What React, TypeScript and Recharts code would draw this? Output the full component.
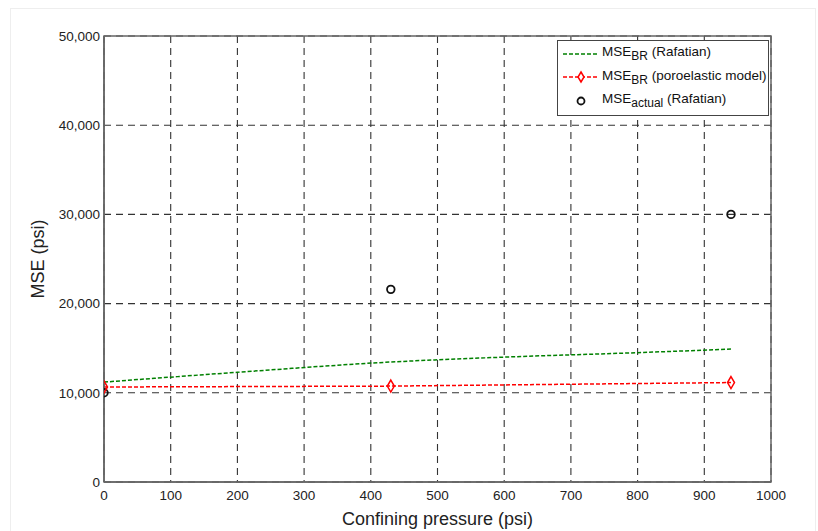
import {
  ComposedChart,
  Line,
  Scatter,
  XAxis,
  YAxis,
  CartesianGrid,
  ReferenceArea,
  Legend,
} from "recharts";

const xTicks = [0, 100, 200, 300, 400, 500, 600, 700, 800, 900, 1000];
const yTicks = [0, 10000, 20000, 30000, 40000, 50000];

// MSE_BR (Rafatian)
const rafatianX = [0, 200, 430, 600, 800, 940];
const rafatianY = [11200, 12300, 13450, 14000, 14500, 14900];

// MSE_BR (poroelastic model)
const poroX = [0, 430, 940];
const poroY = [10650, 10750, 11150];

// MSE_actual (Rafatian)
const actualX = [0, 430, 940];
const actualY = [10000, 21600, 30000];

const rafatian = rafatianX.map((x, i) => ({ x, y: rafatianY[i] }));
const poro = poroX.map((x, i) => ({ x, y: poroY[i] }));
const actual = actualX.map((x, i) => ({ x, y: actualY[i] }));

const FONT = "'Liberation Sans', Arial, sans-serif";

function Diamond(props: any) {
  const { cx, cy } = props;
  if (cx == null || cy == null) return null;
  return (
    <path
      d={`M${cx},${cy - 6} L${cx + 3.5},${cy} L${cx},${cy + 6} L${cx - 3.5},${cy} Z`}
      fill="none"
      stroke="#ff0000"
      strokeWidth={1.5}
    />
  );
}

function Ring(props: any) {
  const { cx, cy } = props;
  return <circle cx={cx} cy={cy} r={3.8} fill="none" stroke="#111" strokeWidth={1.8} />;
}

function LegendBox() {
  const row = { display: "flex", alignItems: "center", height: 23.5 } as const;
  const sub = { fontSize: 12 };
  return (
    <div
      style={{
        position: "absolute",
        left: 557,
        top: 40,
        width: 212,
        height: 76,
        border: "1px solid #444",
        background: "#fff",
        fontFamily: FONT,
        fontSize: 13.5,
        color: "#111",
        padding: "1px 0 0 5px",
        boxSizing: "border-box",
        whiteSpace: "nowrap",
      }}
    >
      <div style={row}>
        <svg width={36} height={12} style={{ marginRight: 3 }}>
          <line x1={0} y1={6} x2={36} y2={6} stroke="#008000" strokeWidth={1.5} strokeDasharray="4 2" />
        </svg>
        <span>
          MSE<sub style={sub}>BR</sub> (Rafatian)
        </span>
      </div>
      <div style={row}>
        <svg width={36} height={14} style={{ marginRight: 3 }}>
          <line x1={0} y1={7} x2={36} y2={7} stroke="#ff0000" strokeWidth={1.5} strokeDasharray="4 2" />
          <path d="M18,2 L21,7 L18,12 L15,7 Z" fill="#fff" stroke="#ff0000" strokeWidth={1.5} />
        </svg>
        <span>
          MSE<sub style={sub}>BR</sub> (poroelastic model)
        </span>
      </div>
      <div style={row}>
        <svg width={36} height={12} style={{ marginRight: 3 }}>
          <circle cx={18} cy={6} r={3.5} fill="none" stroke="#111" strokeWidth={1.8} />
        </svg>
        <span>
          MSE<sub style={sub}>actual</sub> (Rafatian)
        </span>
      </div>
    </div>
  );
}

export default function App() {
  return (
    <div
      style={{
        position: "absolute",
        left: 0,
        top: 0,
        width: 818,
        height: 531,
        background: "#fff",
        fontFamily: FONT,
      }}
    >
      <div
        style={{
          position: "absolute",
          left: 10,
          top: 8,
          width: 806,
          height: 523,
          border: "1px solid #eee",
          borderBottom: "none",
          boxSizing: "border-box",
        }}
      />
      <ComposedChart
        width={818}
        height={531}
        margin={{ top: 36, right: 47, bottom: 19, left: 44 }}
        style={{ position: "absolute", left: 0, top: 0 }}
      >
        <CartesianGrid
          stroke="#333"
          strokeDasharray="7 5"
          strokeWidth={1.1}
          horizontalValues={yTicks}
          verticalValues={xTicks}
        />
        <XAxis
          type="number"
          dataKey="x"
          domain={[0, 1000]}
          ticks={xTicks}
          interval={0}
          tickLine={false}
          axisLine={{ stroke: "#666", strokeWidth: 1.5 }}
          tick={{ fill: "#222", fontSize: 13.5, fontFamily: FONT }}
          tickMargin={2}
          height={30}
          allowDataOverflow
          label={{
            value: "Confining pressure (psi)",
            position: "insideBottom",
            offset: -13,
            fill: "#222",
            fontSize: 18,
            fontFamily: FONT,
          }}
        />
        <YAxis
          type="number"
          dataKey="y"
          domain={[0, 50000]}
          ticks={yTicks}
          interval={0}
          tickLine={false}
          axisLine={{ stroke: "#666", strokeWidth: 1.5 }}
          tick={{ fill: "#222", fontSize: 13.5, fontFamily: FONT }}
          tickSize={2}
          tickMargin={2}
          width={60}
          tickFormatter={(v: number) => v.toLocaleString("en-US")}
          label={{
            value: "MSE (psi)",
            angle: -90,
            position: "insideLeft",
            offset: -6,
            fill: "#222",
            fontSize: 18,
            fontFamily: FONT,
            style: { textAnchor: "middle" },
          }}
        />
        <ReferenceArea
          x1={0}
          x2={1000}
          y1={0}
          y2={50000}
          fill="none"
          stroke="#666"
          strokeWidth={1.5}
          ifOverflow="visible"
        />
        <Line
          data={rafatian}
          dataKey="y"
          type="monotone"
          stroke="#008000"
          strokeWidth={1.5}
          strokeDasharray="4 2"
          dot={false}
          isAnimationActive={false}
        />
        <Line
          data={poro}
          dataKey="y"
          type="linear"
          stroke="#ff0000"
          strokeWidth={1.5}
          strokeDasharray="4 2"
          dot={<Diamond />}
          isAnimationActive={false}
        />
        <Scatter data={actual} dataKey="y" shape={<Ring />} isAnimationActive={false} />
        <Legend content={() => null} />
      </ComposedChart>
      <LegendBox />
    </div>
  );
}
